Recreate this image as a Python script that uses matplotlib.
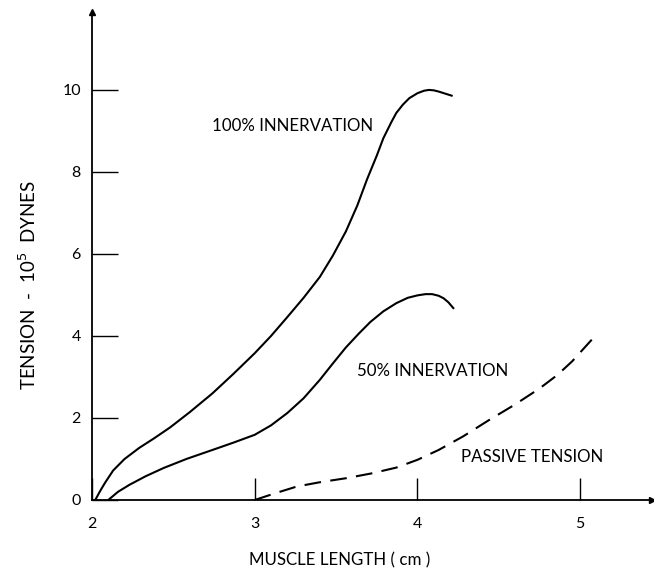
import matplotlib.pyplot as plt

# muscle length (cm) vs tension (10^5 dynes)
full_x = [2.02, 2.05, 2.08, 2.13, 2.20, 2.29, 2.38, 2.48, 2.60, 2.74,
          2.87, 3.00, 3.10, 3.20, 3.30, 3.40, 3.48, 3.56, 3.63, 3.69,
          3.75, 3.79, 3.84, 3.87, 3.91, 3.95, 4.00, 4.04, 4.07, 4.10,
          4.13, 4.17, 4.21]
full_y = [0.0, 0.22, 0.42, 0.72, 1.00, 1.27, 1.50, 1.77, 2.14, 2.60,
          3.08, 3.58, 4.00, 4.46, 4.93, 5.44, 5.96, 6.55, 7.18, 7.82,
          8.40, 8.82, 9.22, 9.44, 9.64, 9.80, 9.92, 9.98, 10.0, 9.99,
          9.96, 9.91, 9.86]

half_x = [2.10, 2.16, 2.23, 2.33, 2.44, 2.58, 2.74, 2.87, 3.00, 3.10,
          3.20, 3.30, 3.40, 3.48, 3.56, 3.64, 3.71, 3.79, 3.87, 3.94,
          4.00, 4.05, 4.09, 4.13, 4.16, 4.19, 4.22]
half_y = [0.0, 0.20, 0.37, 0.58, 0.78, 1.00, 1.22, 1.40, 1.59, 1.82,
          2.12, 2.48, 2.93, 3.33, 3.72, 4.06, 4.34, 4.60, 4.80, 4.93,
          4.99, 5.02, 5.02, 4.98, 4.92, 4.82, 4.68]

passive_x = [3.00, 3.13, 3.26, 3.41, 3.56, 3.72, 3.87, 4.00, 4.13, 4.28,
             4.44, 4.60, 4.75, 4.86, 4.95, 5.08]
passive_y = [0.0, 0.17, 0.33, 0.44, 0.53, 0.65, 0.79, 0.98, 1.22, 1.55,
             1.95, 2.33, 2.72, 3.05, 3.38, 3.95]

x_ticks = [2, 3, 4, 5]
y_ticks = [0, 2, 4, 6, 8, 10]

plt.rcParams["font.family"] = ["Lato", "DejaVu Sans"]

fig = plt.figure(figsize=(6.54, 5.69), dpi=100)
ax = fig.add_axes([0.1407, 0.1213, 0.856, 0.8576])

ax.plot(full_x, full_y, color="black", lw=1.5)
ax.plot(half_x, half_y, color="black", lw=1.5)
ax.plot(passive_x, passive_y, color="black", lw=1.5,
        dashes=(8, 4.5))

ax.set_xlim(2, 5.44)
ax.set_ylim(0, 11.9)

for side in ("top", "right"):
    ax.spines[side].set_visible(False)
for side in ("left", "bottom"):
    ax.spines[side].set_linewidth(1.3)

ax.set_xticks(x_ticks)
ax.set_yticks(y_ticks)
ax.tick_params(axis="x", direction="in", length=16, width=1.0,
               pad=12, labelsize=11.5)
ax.tick_params(axis="y", direction="in", length=19, width=1.0,
               pad=8, labelsize=11.5)

# arrowheads at the axis ends
ax.plot(0, 1, marker="^", color="black", markersize=5,
        transform=ax.transAxes, clip_on=False)
ax.plot(1, 0, marker=">", color="black", markersize=4,
        transform=ax.transAxes, clip_on=False)

ax.text(2.74, 9.12, "100% INNERVATION", fontsize=12.2, va="center")
ax.text(3.63, 3.15, "50% INNERVATION", fontsize=12.2, va="center")
ax.text(4.27, 1.05, "PASSIVE TENSION", fontsize=12.2, va="center")

fig.text(340 / 654, 1 - 560 / 569, "MUSCLE LENGTH ( cm )",
         fontsize=12.2, ha="center", va="center")
fig.text(28 / 654, 1 - 285 / 569, "TENSION  -  10$^{5}$  DYNES",
         fontsize=13.5, ha="center", va="center", rotation=90)

fig.savefig("out.png", dpi=100)
